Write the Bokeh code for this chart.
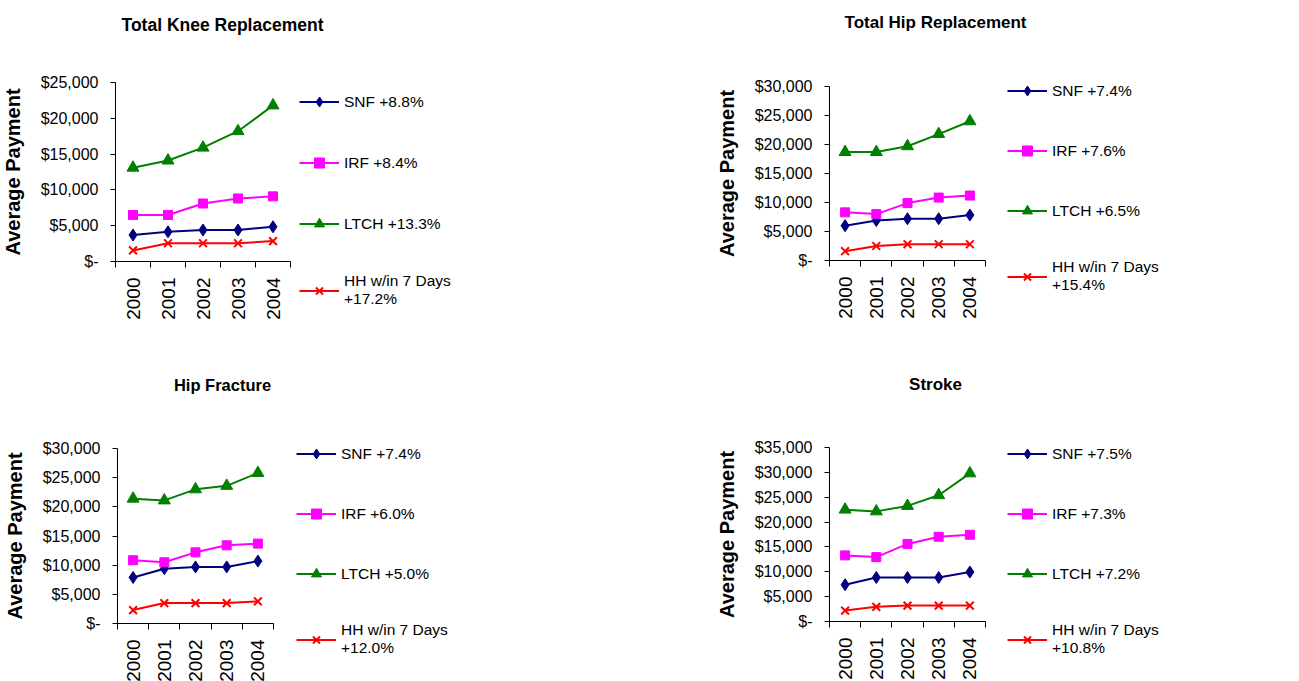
import math
from bokeh.plotting import figure
from bokeh.layouts import row, column
from bokeh.models import Range1d, FixedTicker, NumeralTickFormatter, Legend, LegendItem, Label
from bokeh.embed import file_html
from bokeh.resources import INLINE

# ---------------- data ----------------
years = ["2000", "2001", "2002", "2003", "2004"]
series_names = ["SNF", "IRF", "LTCH", "HH w/in 7 Days"]

knee_title = "Total Knee Replacement"
knee_snf = [3700, 4150, 4400, 4400, 4850]
knee_irf = [6500, 6500, 8100, 8800, 9100]
knee_ltch = [13100, 14100, 15900, 18200, 21800]
knee_hh = [1550, 2550, 2550, 2550, 2850]
knee_growth = ["+8.8%", "+8.4%", "+13.3%", "+17.2%"]
knee_ymax = 25000

hip_title = "Total Hip Replacement"
hip_snf = [6000, 6900, 7200, 7200, 7850]
hip_irf = [8300, 8000, 9900, 10850, 11200]
hip_ltch = [18700, 18700, 19700, 21800, 24000]
hip_hh = [1600, 2500, 2800, 2800, 2800]
hip_growth = ["+7.4%", "+7.6%", "+6.5%", "+15.4%"]
hip_ymax = 30000

fx_title = "Hip Fracture"
fx_snf = [7900, 9400, 9700, 9700, 10700]
fx_irf = [10850, 10500, 12200, 13400, 13700]
fx_ltch = [21400, 21100, 23000, 23600, 25800]
fx_hh = [2300, 3500, 3500, 3500, 3800]
fx_growth = ["+7.4%", "+6.0%", "+5.0%", "+12.0%"]
fx_ymax = 30000

stroke_title = "Stroke"
stroke_snf = [7400, 8850, 8850, 8850, 9950]
stroke_irf = [13300, 12950, 15600, 17050, 17450]
stroke_ltch = [22500, 22150, 23250, 25400, 29800]
stroke_hh = [2200, 2950, 3200, 3200, 3200]
stroke_growth = ["+7.5%", "+7.3%", "+7.2%", "+10.8%"]
stroke_ymax = 35000

y_step = 5000

# ---------------- styles ----------------
colors = ["#000080", "#FF00FF", "#008000", "#FF0000"]
markers = ["diamond", "square", "triangle", "x"]
marker_sizes = [12, 9, 12, 11]
SANS = "Liberation Sans"
LEG_FS = "15.5px"
TICK_FS = "16px"

panels = [
    dict(title=knee_title, series=[knee_snf, knee_irf, knee_ltch, knee_hh], growth=knee_growth, ymax=knee_ymax),
    dict(title=hip_title, series=[hip_snf, hip_irf, hip_ltch, hip_hh], growth=hip_growth, ymax=hip_ymax),
    dict(title=fx_title, series=[fx_snf, fx_irf, fx_ltch, fx_hh], growth=fx_growth, ymax=fx_ymax),
    dict(title=stroke_title, series=[stroke_snf, stroke_irf, stroke_ltch, stroke_hh], growth=stroke_growth, ymax=stroke_ymax),
]

# page-pixel layout of each panel: quadrant, axis box, title centre, legend
layouts = [
    dict(origin=(0, 0), size=(650, 340), box=(115, 290, 82, 261), title_c=(222, 24), title_fs=17.5,
         legend_x=299, legend_rows=(102, 284), xstand=10, ystand=14),
    dict(origin=(650, 0), size=(649, 340), box=(829, 985, 86, 260), title_c=(935, 22), title_fs=17,
         legend_x=1007, legend_rows=(91, 272), xstand=10, ystand=14),
    dict(origin=(0, 340), size=(650, 341), box=(117, 273, 448, 623), title_c=(222, 384), title_fs=16.5,
         legend_x=296, legend_rows=(454, 635), xstand=10, ystand=14),
    dict(origin=(650, 340), size=(649, 341), box=(829, 985, 447, 621), title_c=(935, 384), title_fs=17,
         legend_x=1007, legend_rows=(453, 633), xstand=10, ystand=14),
]


def make_panel(d, lay):
    ox, oy = lay["origin"]
    W, H = lay["size"]
    L, R, T, B = lay["box"]
    n = len(years)
    xs = list(range(n))
    ymax = d["ymax"]

    # the frame covers the whole quadrant; axes sit at fixed data locations
    kx = n / (R - L)
    ky = ymax / (B - T)
    x_range = Range1d(-0.5 - (L - ox) * kx, -0.5 + (ox + W - L) * kx)
    y_range = Range1d(-(oy + H - B) * ky, ymax + (T - oy) * ky)

    def to_data(px, py):
        return (-0.5 + (px - L) * kx, (B - py) * ky)

    p = figure(frame_width=W, frame_height=H, min_border=0,
               x_range=x_range, y_range=y_range,
               toolbar_location=None, tools="", output_backend="svg")
    p.outline_line_color = None
    p.xgrid.visible = False
    p.ygrid.visible = False
    p.background_fill_color = "white"
    p.border_fill_color = "white"

    # x axis: labels at category centres, tick marks at category boundaries
    xa = p.xaxis[0]
    xa.fixed_location = 0
    xa.bounds = (-0.5, n - 0.5)
    xa.ticker = FixedTicker(ticks=xs, minor_ticks=[i - 0.5 for i in range(n + 1)])
    xa.major_label_overrides = {i: y for i, y in enumerate(years)}
    xa.major_label_orientation = math.pi / 2
    xa.major_tick_out = 0
    xa.major_tick_in = 0
    xa.minor_tick_out = 6
    xa.minor_tick_in = 0
    xa.minor_tick_line_color = "black"
    xa.axis_line_color = "black"
    xa.major_label_standoff = lay["xstand"]
    xa.major_label_text_font = SANS
    xa.major_label_text_font_size = "19px"
    xa.major_label_text_color = "black"

    # y axis
    ya = p.yaxis[0]
    ya.fixed_location = -0.5
    ya.bounds = (0, ymax)
    ya.ticker = FixedTicker(ticks=list(range(0, ymax + 1, y_step)))
    ya.formatter = NumeralTickFormatter(format="$0,0")
    ya.major_label_overrides = {0: "$-"}
    ya.major_tick_out = 5
    ya.major_tick_in = 0
    ya.major_tick_line_color = "black"
    ya.minor_tick_line_color = None
    ya.axis_line_color = "black"
    ya.major_label_standoff = 12
    ya.major_label_text_font = SANS
    ya.major_label_text_font_size = TICK_FS
    ya.major_label_text_color = "black"
    ya.axis_label = "Average Payment"
    ya.axis_label_text_font = SANS
    ya.axis_label_text_font_style = "bold"
    ya.axis_label_text_font_size = "20px"
    ya.axis_label_text_color = "black"
    ya.axis_label_standoff = lay["ystand"]

    items = []
    for k, vals in enumerate(d["series"]):
        lr = p.line(xs, vals, line_color=colors[k], line_width=2)
        sr = p.scatter(xs, vals, marker=markers[k], size=marker_sizes[k],
                       fill_color=colors[k], line_color=colors[k], line_width=2 if markers[k] == "x" else 1)
        label = f"{series_names[k]} {d['growth'][k]}" if k < 3 else f"{series_names[k]}\n{d['growth'][k]}"
        items.append(LegendItem(label=label, renderers=[lr, sr]))

    # legend, placed inside the (quadrant-sized) frame
    h = 25
    hh_h = 36
    r0, r3 = lay["legend_rows"]
    spacing = int(round((r3 - r0) / 3 - h))
    leg_h = 3 * h + hh_h + 3 * spacing
    top_local = r0 - h / 2 - oy
    vx = lay["legend_x"] - ox
    vy = int(round(H - top_local - leg_h))
    legend = Legend(items=items, location=(vx, vy), orientation="vertical",
                    glyph_width=40, glyph_height=h, label_height=h,
                    label_standoff=5, padding=0, margin=0, spacing=spacing,
                    border_line_color=None, background_fill_alpha=0,
                    label_text_font=SANS, label_text_font_size=LEG_FS,
                    label_text_color="black")
    p.add_layout(legend)

    tx, ty = to_data(*lay["title_c"])
    p.add_layout(Label(x=tx, y=ty, text=d["title"], text_align="center", text_baseline="middle",
                       text_font=SANS, text_font_style="bold", text_font_size=f"{lay['title_fs']}px",
                       text_color="black"))
    return p


figs = [make_panel(d, lay) for d, lay in zip(panels, layouts)]
page = column(row(figs[0], figs[1]), row(figs[2], figs[3]))

open("out.html", "w").write(file_html(page, INLINE))
